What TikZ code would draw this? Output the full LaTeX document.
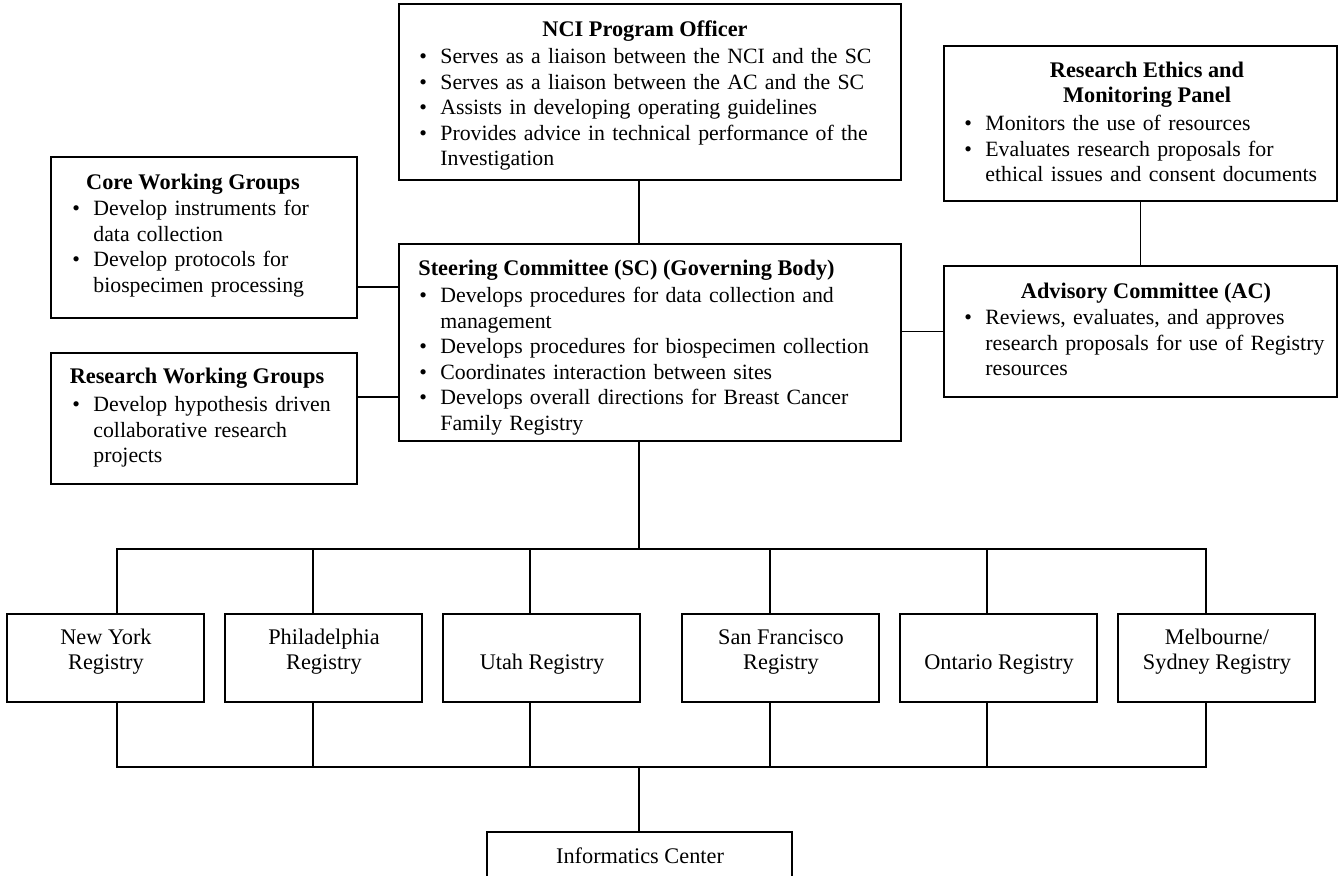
\documentclass[tikz,border=0pt]{standalone}
\usepackage{fontspec}
\setmainfont{Liberation Serif}
\usetikzlibrary{fit}
\newcommand\bul[1]{\par\leftskip=10pt\noindent\llap{\hbox to 10pt{\strut\hskip-0.5pt\textbullet\hfil}}#1\strut\par}
\begin{document}
\begin{tikzpicture}[x=0.5pt,y=-0.5pt,
  box/.style={draw, line width=0.9pt, inner sep=0pt},
  txt/.style={font=\fontsize{11.15pt}{12.75pt}\selectfont, inner sep=0pt},
  ttl/.style={txt, font=\fontsize{11.15pt}{12.75pt}\selectfont\bfseries, anchor=north, align=center},
  body/.style={txt, font=\fontsize{10.9pt}{12.75pt}\selectfont, anchor=north west, text width=#1},
  reg/.style={txt, anchor=north, align=center},
  con/.style={line width=0.9pt}]
\useasboundingbox (0,0) rectangle (1338,875);
\clip (0,0) rectangle (1338,875);
% boxes
\node[box, fit={(399,4) (901,180)}] (nci) {};
\node[box, fit={(399,244) (901,441)}] (sc) {};
\node[box, fit={(51,157) (357,318)}] (core) {};
\node[box, fit={(51,353) (357,484)}] (rw) {};
\node[box, fit={(944,46) (1337,201)}] (re) {};
\node[box, fit={(944,266) (1337,397)}] (ac) {};
\node[box, fit={(7,614) (204,702)}] (ny) {};
\node[box, fit={(225,614) (422,702)}] (ph) {};
\node[box, fit={(443,614) (640,702)}] (ut) {};
\node[box, fit={(682,614) (879,702)}] (sf) {};
\node[box, fit={(900,614) (1097,702)}] (on) {};
\node[box, fit={(1118,614) (1315,702)}] (me) {};
\node[box, fit={(487,832) (792,900)}] (inf) {};
% titles
\node[ttl] (nciT) at (645,18) {\strut NCI Program Officer};
\node[ttl, anchor=north west] (scT) at (418,257) {\strut Steering Committee (SC) (Governing Body)};
\node[ttl] (coreT) at (193,171) {\strut Core Working Groups};
\node[ttl] (rwT) at (197,365) {\strut Research Working Groups};
\node[ttl] (reT) at (1147,59) {\strut Research Ethics and\\Monitoring Panel};
\node[ttl] (acT) at (1146,280) {\strut Advisory Committee (AC)};
% bodies
\node[body=250pt] (nciB) at (420,38) {%
\bul{Serves as a liaison between the NCI and the SC}
\bul{Serves as a liaison between the AC and the SC}
\bul{Assists in developing operating guidelines}
\bul{Provides advice in technical performance of the\newline Investigation}};
\node[body=250pt] (scB) at (420,277) {%
\bul{Develops procedures for data collection and\newline management}
\bul{Develops procedures for biospecimen collection}
\bul{Coordinates interaction between sites}
\bul{Develops overall directions for Breast Cancer\newline Family Registry}};
\node[body=150pt] (coreB) at (73,190) {%
\bul{Develop instruments for\newline data collection}
\bul{Develop protocols for\newline biospecimen processing}};
\node[body=150pt] (rwB) at (73,386) {%
\bul{Develop hypothesis driven\newline collaborative research\newline projects}};
\node[body=200pt] (reB) at (965,105) {%
\bul{Monitors the use of resources}
\bul{Evaluates research proposals for\newline ethical issues and consent documents}};
\node[body=200pt] (acB) at (965,299) {%
\bul{Reviews, evaluates, and approves\newline research proposals for use of Registry\newline resources}};
% registry labels
\node[reg] (nyT) at (106,626) {\strut New York\\Registry};
\node[reg] (phT) at (324,626) {\strut Philadelphia\\Registry};
\node[reg] (utT) at (542,651) {\strut Utah Registry};
\node[reg] (sfT) at (781,626) {\strut San Francisco\\Registry};
\node[reg] (onT) at (999,651) {\strut Ontario Registry};
\node[reg] (meT) at (1217,626) {\strut Melbourne/\\Sydney Registry};
\node[reg] (infT) at (640,845) {\strut Informatics Center};
% connectors
\coordinate (t1) at (639,549);
\coordinate (t2) at (639,767);
\coordinate (k1) at (380,287);
\coordinate (k2) at (380,397);
\draw[con] (t1 |- nci.south) -- (t1 |- sc.north);
\draw[con] (t1 |- sc.south) -- (t1);
\draw[con] (k1 -| core.east) -- (k1 -| sc.west);
\draw[con] (k2 -| rw.east) -- (k2 -| sc.west);
\draw[con] (sc.east |- ac.west) -- (ac.west);
\draw[con] (re.south) -- (ac.north);
\foreach \n/\x in {ny/117,ph/313,ut/530,sf/770,on/987,me/1206} {
  \coordinate (u\n) at (\x,549);
  \coordinate (d\n) at (\x,767);
}
\draw[con] (uny |- ny.north) -- (uny) -- (ume) -- (ume |- me.north);
\draw[con] (dny |- ny.south) -- (dny) -- (dme) -- (dme |- me.south);
\foreach \n in {ph,ut,sf,on} {
  \draw[con] (u\n) -- (u\n |- \n.north);
  \draw[con] (d\n |- \n.south) -- (d\n);
}
\draw[con] (t2) -- (t2 |- inf.north);
\end{tikzpicture}
\end{document}
